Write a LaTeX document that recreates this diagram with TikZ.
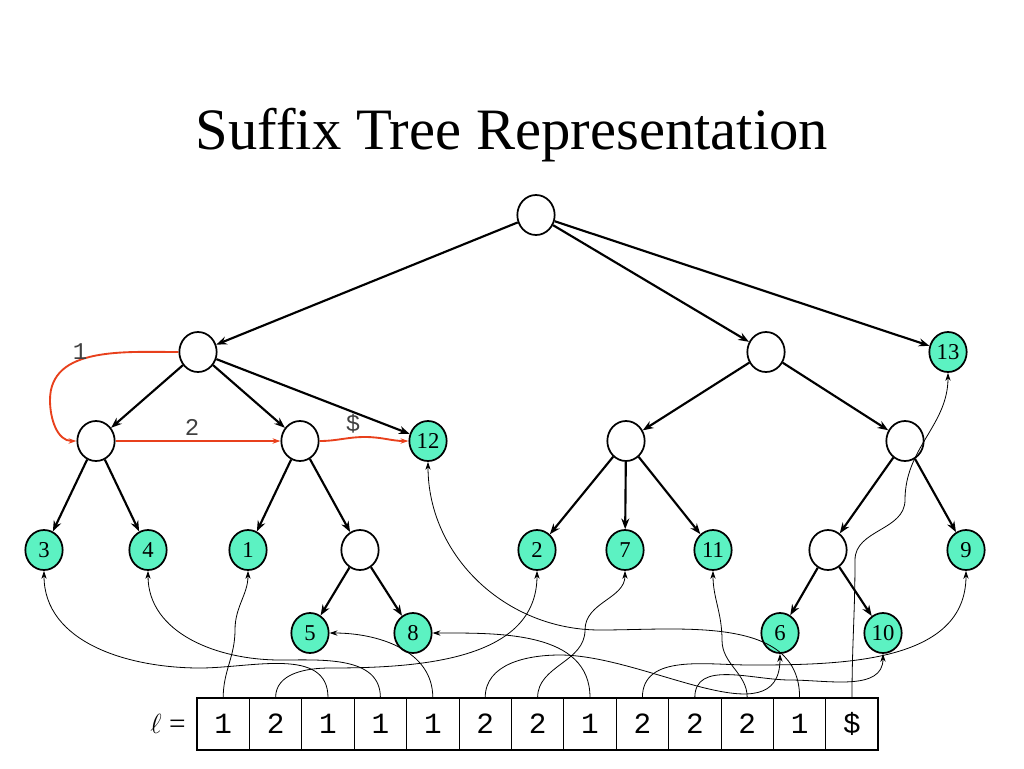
\documentclass[tikz,border=0pt]{standalone}
\usepackage{fontspec}
\setmainfont{Liberation Serif}
\newfontfamily\mono{Liberation Mono}
\usetikzlibrary{arrows.meta,shapes.geometric}
\definecolor{leafc}{HTML}{5CF2C2}
\definecolor{redc}{HTML}{E8401C}
\begin{document}
\begin{tikzpicture}[x=0.75pt,y=-0.75pt,
 nd/.style={draw,line width=1.3pt,ellipse,minimum width=28pt,minimum height=30pt,inner sep=0pt,fill=white},
 lf/.style={nd,fill=leafc,font=\fontsize{17}{17}\selectfont},
 ed/.style={-{Stealth[length=8pt,width=6pt]},line width=1.6pt},
 pt/.style={-{Stealth[length=6pt,width=4pt]},line width=0.6pt},
 rd/.style={-{Stealth[length=6pt,width=4pt]},line width=1.4pt,redc},
 cell/.style={draw,line width=0.6pt,minimum width=39.3pt,minimum height=39pt,inner sep=0pt,font=\mono\fontsize{22}{22}\selectfont},
 lab/.style={font=\mono\fontsize{18}{18}\selectfont,text=black!75}]
\useasboundingbox (0,0) rectangle (1024,768);
\node[font=\fontsize{44}{44}\selectfont] (title) at (512,135) {Suffix Tree Representation};
\node[nd] (r) at (536,215) {};
\node[nd] (A) at (198,352) {};
\node[nd] (B) at (766,352) {};
\node[lf] (n13) at (948,352) {13};
\node[nd] (C) at (96,441) {};
\node[nd] (D) at (300,441) {};
\node[lf] (n12) at (428,441) {12};
\node[nd] (E) at (626,441) {};
\node[nd] (F) at (905,441) {};
\node[lf] (n3) at (44,550) {3};
\node[lf] (n4) at (148,550) {4};
\node[lf] (n1) at (248,550) {1};
\node[nd] (G) at (360,550) {};
\node[lf] (n2) at (537,550) {2};
\node[lf] (n7) at (625,550) {7};
\node[lf] (n11) at (713,550) {11};
\node[nd] (H) at (828,550) {};
\node[lf] (n9) at (966,550) {9};
\node[lf] (n5) at (310,633) {5};
\node[lf] (n8) at (413,633) {8};
\node[lf] (n6) at (780,633) {6};
\node[lf] (n10) at (883,633) {10};
\foreach \a/\b in {r/A,r/B,r/n13,A/C,A/D,A/n12,B/E,B/F,C/n3,C/n4,D/n1,D/G,E/n2,E/n7,E/n11,F/H,F/n9,G/n5,G/n8,H/n6,H/n10}
  \draw[ed] (\a) -- (\b);
% red suffix links
\draw[rd] (A.west) to[out=180,in=90] (50,400) to[out=-90,in=180] (C.west);
\draw[rd] (C.east) -- (D.west);
\draw[rd] (D.east) to[out=0,in=180] (365,437) to[out=0,in=180] (n12.west);
\node[lab] (l1) at (80,352) {1};
\node[lab] (l2) at (192,427) {2};
\node[lab] (l3) at (353,424) {\$};
% array
\node[font=\fontsize{22}{22}\selectfont] (ell) at (168,724) {$\ell$ =};
\foreach \v [count=\i from 0] in {1,2,1,1,1,2,2,1,2,2,2,1,\$}
  \node[cell] (c\i) at (223.2+52.4*\i,724) {\v};
\draw[line width=2.2pt] (197,698) rectangle (878,750);
% pointers
\draw[pt] (c0.north) to[out=90,in=-90] (235,630) to[out=90,in=-90] (n1.south);
\draw[pt] (c1.north) to[out=90,in=180] (330,668) to[out=0,in=-90] (n2.south);
\draw[pt] (c2.north) to[out=90,in=0] (200,668) to[out=180,in=-90] (n3.south);
\draw[pt] (c3.north) to[out=90,in=0] (280,660) to[out=180,in=-90] (n4.south);
\draw[pt] (c4.north) to[out=90,in=0] (n5.east);
\draw[pt] (c5.north) to[out=90,in=180] (560,655) to[out=0,in=-90] (n6.south);
\draw[pt] (c6.north) to[out=90,in=-90] (585,630) to[out=90,in=-90] (n7.south);
\draw[pt] (c7.north) to[out=90,in=0] (n8.east);
\draw[pt] (c8.north) to[out=90,in=180] (750,665) to[out=0,in=-90] (n9.south);
\draw[pt] (c9.north) to[out=90,in=180] (790,680) to[out=0,in=-90] (n10.south);
\draw[pt] (c10.north) to[out=90,in=-90] (722,640) to[out=90,in=-90] (n11.south);
\draw[pt] (c11.north) to[out=90,in=0] (600,630) to[out=180,in=-90] (n12.south);
\draw[pt] (c12.north) to[out=90,in=-90] (855,560) to[out=90,in=-90] (905,500) to[out=90,in=-90] (n13.south);
\end{tikzpicture}
\end{document}
